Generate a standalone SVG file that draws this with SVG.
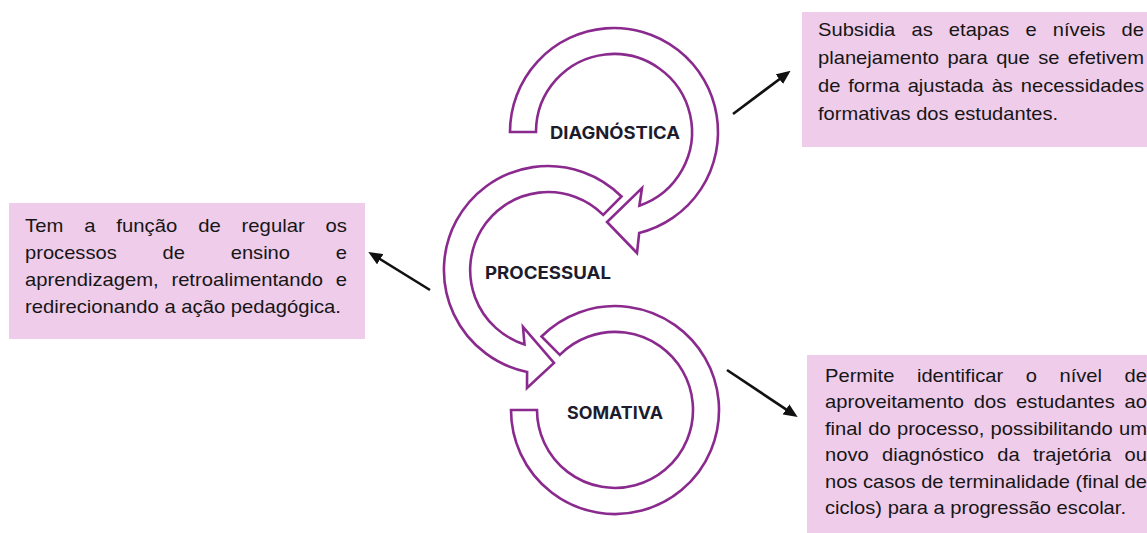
<svg xmlns="http://www.w3.org/2000/svg" width="1147" height="533" viewBox="0 0 1147 533">
<style>
.box{fill:#F0CCEB;}
.txt{font-family:"Liberation Sans",Arial,sans-serif;font-size:17.8px;fill:#161616;}
.band{fill:#ffffff;stroke:#8B2A8E;stroke-width:2.6;stroke-linejoin:miter;}
.lbl{font-family:Inter,"Liberation Sans",sans-serif;font-weight:700;font-size:17px;fill:#1c1c2e;text-anchor:middle;}
.conn{stroke:#111111;stroke-width:2.6;fill:none;}
</style>
<defs>
<marker id="ah" markerUnits="userSpaceOnUse" markerWidth="14" markerHeight="12" refX="10" refY="6" orient="auto">
<path d="M0,0 L14,6 L0,12 Z" fill="#111111"/>
</marker>
</defs>
<rect width="1147" height="533" fill="#ffffff"/>

<g id="diagnostica">
<path class="band" d="M 536 132 L 510 132 A 104 104 0 1 1 639.2 232.9 L 637 253 L 607 222 L 642 188 L 639.4 205.7 A 78 78 0 1 0 536 132 Z"/>
<text class="lbl" x="615" y="138.5" textLength="130" lengthAdjust="spacingAndGlyphs">DIAGNÓSTICA</text>
</g>

<g id="processual">
<path class="band" d="M 603.2 214.8 L 621.5 196.5 A 104 104 0 1 0 527.1 371.9 L 527 388 L 554 363 L 523 327 L 524.5 344.4 A 78 78 0 1 1 603.2 214.8 Z"/>
<text class="lbl" x="548" y="278.5" textLength="126" lengthAdjust="spacingAndGlyphs">PROCESSUAL</text>
</g>

<g id="somativa">
<path class="band" d="M 559.8 354.8 L 541.5 336.5 A 104 104 0 1 1 511 410 L 537 410 A 78 78 0 1 0 559.8 354.8 Z"/>
<text class="lbl" x="615" y="418.5" textLength="96" lengthAdjust="spacingAndGlyphs">SOMATIVA</text>
</g>

<g id="box-diagnostica">
<rect class="box" x="802" y="12" width="345" height="135"/>
<text class="txt" x="818" y="36" word-spacing="9.3" textLength="326" lengthAdjust="spacingAndGlyphs">Subsidia as etapas e níveis de</text>
<text class="txt" x="818" y="64" word-spacing="2.5" textLength="326" lengthAdjust="spacingAndGlyphs">planejamento para que se efetivem</text>
<text class="txt" x="818" y="92" word-spacing="2" textLength="326" lengthAdjust="spacingAndGlyphs">de forma ajustada às necessidades</text>
<text class="txt" x="818" y="120" textLength="240" lengthAdjust="spacingAndGlyphs">formativas dos estudantes.</text>
</g>

<g id="box-processual">
<rect class="box" x="9" y="203" width="356" height="136"/>
<text class="txt" x="25" y="231.5" word-spacing="13.4" textLength="322" lengthAdjust="spacingAndGlyphs">Tem a função de regular os</text>
<text class="txt" x="25" y="258.5" word-spacing="35.5" textLength="322" lengthAdjust="spacingAndGlyphs">processos de ensino e</text>
<text class="txt" x="25" y="285.5" word-spacing="6.3" textLength="322" lengthAdjust="spacingAndGlyphs">aprendizagem, retroalimentando e</text>
<text class="txt" x="25" y="312.5" textLength="316" lengthAdjust="spacingAndGlyphs">redirecionando a ação pedagógica.</text>
</g>

<g id="box-somativa">
<rect class="box" x="807" y="355" width="340" height="178"/>
<text class="txt" x="825" y="381.5" word-spacing="15" textLength="322" lengthAdjust="spacingAndGlyphs">Permite identificar o nível de</text>
<text class="txt" x="825" y="408" word-spacing="3.7" textLength="322" lengthAdjust="spacingAndGlyphs">aproveitamento dos estudantes ao</text>
<text class="txt" x="825" y="434.5" word-spacing="0.6" textLength="322" lengthAdjust="spacingAndGlyphs">final do processo, possibilitando um</text>
<text class="txt" x="825" y="461" word-spacing="6.8" textLength="322" lengthAdjust="spacingAndGlyphs">novo diagnóstico da trajetória ou</text>
<text class="txt" x="825" y="487.5" textLength="322" lengthAdjust="spacingAndGlyphs">nos casos de terminalidade (final de</text>
<text class="txt" x="825" y="514" textLength="301" lengthAdjust="spacingAndGlyphs">ciclos) para a progressão escolar.</text>
</g>

<g id="connectors">
<line class="conn" x1="733" y1="114" x2="787.4" y2="73.2" marker-end="url(#ah)"/>
<line class="conn" x1="430" y1="290" x2="371.7" y2="254" marker-end="url(#ah)"/>
<line class="conn" x1="727" y1="370" x2="794.3" y2="414.9" marker-end="url(#ah)"/>
</g>
</svg>
